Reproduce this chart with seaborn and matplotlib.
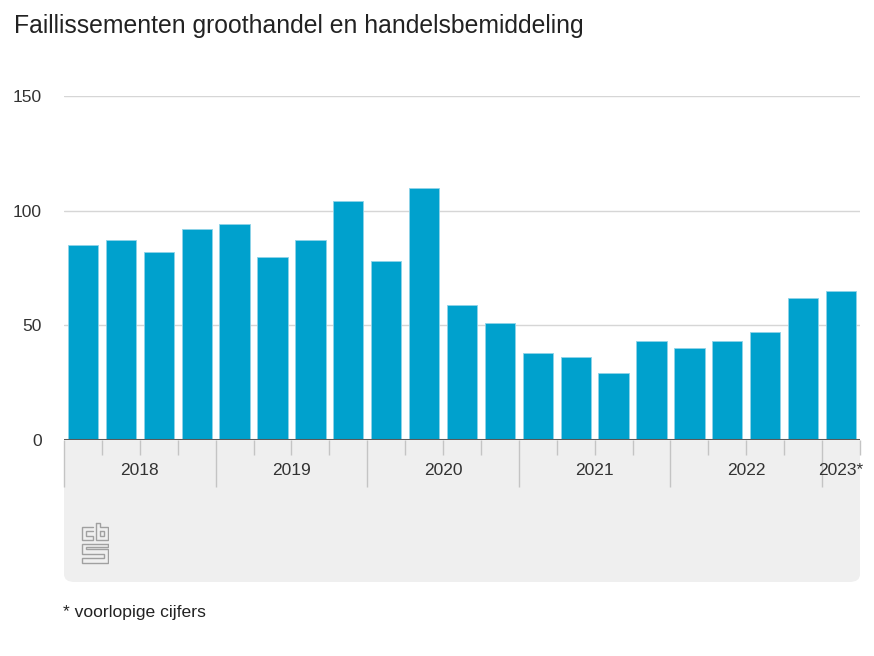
import seaborn as sns
import matplotlib.pyplot as plt
import pandas as pd
from matplotlib.patches import FancyBboxPatch, Rectangle

# data: bankruptcies per quarter
quarters = ["2018 Q1", "2018 Q2", "2018 Q3", "2018 Q4",
            "2019 Q1", "2019 Q2", "2019 Q3", "2019 Q4",
            "2020 Q1", "2020 Q2", "2020 Q3", "2020 Q4",
            "2021 Q1", "2021 Q2", "2021 Q3", "2021 Q4",
            "2022 Q1", "2022 Q2", "2022 Q3", "2022 Q4",
            "2023 Q1"]
values = [85, 87, 82, 92, 94, 80, 87, 104, 78, 110, 59, 51,
          38, 36, 29, 43, 40, 43, 47, 62, 65]
years = ["2018", "2019", "2020", "2021", "2022", "2023*"]
y_ticks = [0, 50, 100, 150]

df = pd.DataFrame({"Kwartaal": quarters, "Faillissementen": values})

sns.set_style("white")
plt.rcParams["font.family"] = ["Liberation Sans", "DejaVu Sans"]

W, H = 874, 656
fig = plt.figure(figsize=(W / 100, H / 100), dpi=100)

def fx(px):
    return px / W

def fy(py):
    return 1 - py / H

# grey panel below the axis (drawn behind the axes)
panel = FancyBboxPatch((fx(64), fy(582)), fx(860) - fx(64), fy(440) - fy(582),
                       boxstyle="round,pad=0,rounding_size=0.012",
                       transform=fig.transFigure, facecolor="#efefef",
                       edgecolor="none", zorder=-2)
fig.patches.append(panel)
fig.patches.append(Rectangle((fx(64), fy(520)), fx(860) - fx(64), fy(440) - fy(520),
                             transform=fig.transFigure, facecolor="#efefef",
                             edgecolor="none", zorder=-2))

ax = fig.add_axes([fx(64), fy(440), fx(860) - fx(64), fy(96) - fy(440)])
ax.set_facecolor("none")

sns.barplot(data=df, x="Kwartaal", y="Faillissementen", color="#00a1cd",
            saturation=1, width=0.8, edgecolor="#8fd3e8", linewidth=0.6,
            ax=ax, zorder=3)

ax.set_xlim(-0.5, len(quarters) - 0.5)
ax.set_ylim(0, 150)
ax.set_xlabel("")
ax.set_ylabel("")

# y axis: gridlines, labels left of the plot
ax.set_yticks(y_ticks)
ax.set_yticklabels([str(v) for v in y_ticks], fontsize=12.5, color="#333333")
ax.tick_params(axis="y", length=0, pad=16)
for v in y_ticks[1:]:
    ax.axhline(v, color="#d6d6d6", lw=1, zorder=1)
ax.axhline(0, color="#5a5a5a", lw=2.2, zorder=4)

for s in ax.spines.values():
    s.set_visible(False)

# x axis: year separators and quarter ticks
bounds = [i - 0.5 for i in range(len(quarters) + 1)]
year_bounds = [b for i, b in enumerate(bounds) if i % 4 == 0]
quarter_bounds = [b for i, b in enumerate(bounds) if i % 4 != 0]
ax.set_xticks(year_bounds)
ax.set_xticks(quarter_bounds, minor=True)
ax.set_xticklabels([])
ax.tick_params(axis="x", which="both", bottom=True, direction="out")
ax.tick_params(axis="x", which="major", length=34, width=1, color="#c4c4c4")
ax.tick_params(axis="x", which="minor", length=11, width=1, color="#c4c4c4")

for k, yr in enumerate(years):
    idx = [i for i in range(4 * k, min(4 * k + 4, len(quarters)))]
    cx = sum(idx) / len(idx)
    ax.text(cx, -0.088, yr, transform=ax.get_xaxis_transform(), ha="center",
            va="center", fontsize=12.5, color="#333333", clip_on=False)

# title and footnote
fig.text(fx(14), fy(26), "Faillissementen groothandel en handelsbemiddeling",
         fontsize=17.8, color="#222222", va="center", ha="left")
fig.text(fx(63), fy(612), "* voorlopige cijfers", fontsize=12.6,
         color="#222222", va="center", ha="left")

# simple cbs logo
lax = fig.add_axes([fx(81), fy(565), fx(109) - fx(81), fy(522) - fy(565)])
lax.set_xlim(0, 28)
lax.set_ylim(42, 0)
lax.axis("off")
logo_color = "#a0a0a0"
paths = [
    # c
    [(12, 5), (1, 5), (1, 18), (12, 18), (12, 14), (5, 14), (5, 9), (12, 9)],
    # b
    [(15, 1), (15, 18), (27, 18), (27, 5), (19, 5), (19, 1), (15, 1)],
    [(19, 9), (23, 9), (23, 14), (19, 14), (19, 9)],
    # s
    [(27, 21), (1, 21), (1, 31), (23, 31), (23, 35), (1, 35), (1, 40), (27, 40),
     (27, 26), (5, 26), (5, 24), (27, 24), (27, 21)],
]
for p in paths:
    xs, ys = zip(*p)
    lax.plot(xs, ys, color=logo_color, lw=1.0, solid_joinstyle="miter")

fig.savefig("out.png", dpi=100)
plt.close()
